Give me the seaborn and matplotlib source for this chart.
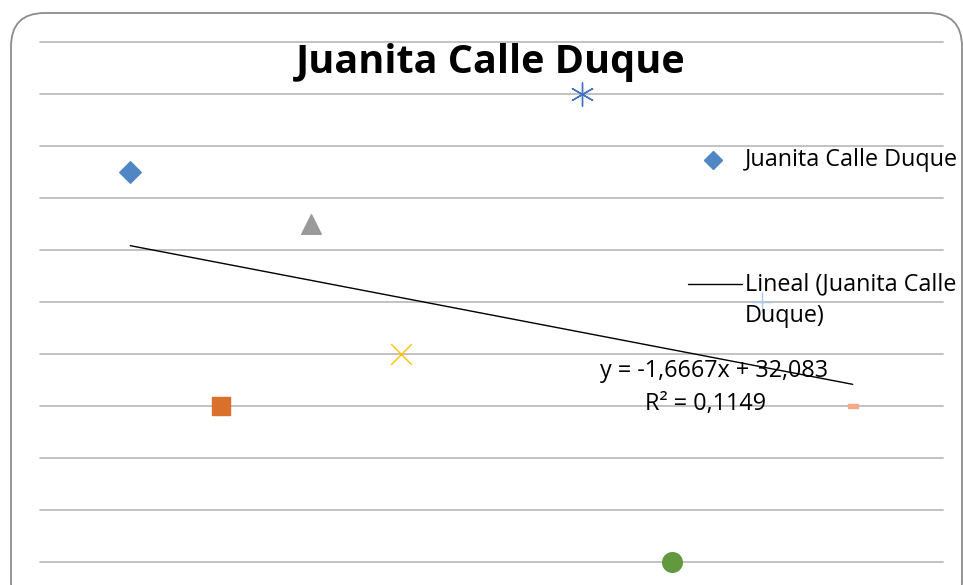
import numpy as np
import pandas as pd
import matplotlib.pyplot as plt
import seaborn as sns
from matplotlib.patches import FancyBboxPatch
from matplotlib.lines import Line2D
from matplotlib.path import Path

titulo = "Juanita Calle Duque"
x_vals = [1, 2, 3, 4, 6, 7, 8, 9]
y_vals = [37.5, 15, 32.5, 20, 45, 0, 25, 15]
colores = ["#4F86C3", "#D9702B", "#9A9A9A", "#FFC000", "#4472C4", "#62993E", "#A9C8EA", "#F4AA88"]
rect = Path([(-1, -0.45), (1, -0.45), (1, 0.45), (-1, 0.45), (-1, -0.45)],
            [Path.MOVETO, Path.LINETO, Path.LINETO, Path.LINETO, Path.CLOSEPOLY])
marcas = ["D", "s", "^", "x", (6, 2, 0), "o", "+", rect]
tamanos = [120, 150, 200, 220, 280, 200, 200, 60]

sns.set_style("white")
plt.rcParams['font.family'] = ['Open Sans', 'DejaVu Sans']
plt.rcParams['text.color'] = 'black'

fig = plt.figure(figsize=(9.63, 5.85), dpi=100)
W, H = 963, 585
ax = fig.add_axes([40 / W, 1 - 562 / H, (943 - 40) / W, (562 - 42) / H])
ax.set_facecolor("none")

df = pd.DataFrame({"x": x_vals, "y": y_vals})

# linea de tendencia
sns.regplot(data=df, x="x", y="y", scatter=False, ci=None, ax=ax,
            color="black", line_kws=dict(lw=1.0))

for i in range(len(x_vals)):
    sub = df.iloc[[i]]
    sns.scatterplot(data=sub, x="x", y="y", marker=marcas[i], s=tamanos[i],
                    color=colores[i], edgecolor=colores[i] if marcas[i] not in ["x", "+"] and i != 4 else None,
                    linewidth=1.0, ax=ax, zorder=3, clip_on=False)

ax.set_xlim(0, 10)
ax.set_ylim(0, 50)
ax.set_yticks(np.arange(0, 51, 5))
ax.set_xticks([])
ax.grid(axis="y", color="#BDBDBD", lw=1.3)
for gl in ax.get_ygridlines():
    gl.set_clip_on(False)
ax.tick_params(left=False, labelleft=False)
ax.set_xlabel("")
ax.set_ylabel("")
sns.despine(ax=ax, left=True, bottom=True)

# ecuacion
m, b = np.polyfit(x_vals, y_vals, 1)
r2 = np.corrcoef(x_vals, y_vals)[0, 1] ** 2
eq = f"y = {m:.4f}x + {b:.3f}".replace(".", ",")
r2txt = f"R² = {r2:.4f}".replace(".", ",")
fs = 16.8
fig.text(714 / W, 1 - 371 / H, eq, ha="center", va="center", fontsize=fs)
fig.text(706 / W, 1 - 404 / H, r2txt, ha="center", va="center", fontsize=fs)

fig.text(491 / W, 1 - 63 / H, titulo, ha="center", va="center", fontsize=28.5, fontweight="bold")

# leyenda
fig.add_artist(Line2D([713 / W], [1 - 160 / H], marker="D", color=colores[0], markersize=9,
                      linestyle="none", transform=fig.transFigure))
fig.text(745 / W, 1 - 160 / H, titulo, ha="left", va="center", fontsize=fs)
fig.add_artist(Line2D([688 / W, 742 / W], [1 - 284 / H, 1 - 284 / H], color="black", lw=1.0,
                      transform=fig.transFigure))
fig.text(745 / W, 1 - 284 / H, "Lineal (Juanita Calle", ha="left", va="center", fontsize=fs)
fig.text(745 / W, 1 - 316 / H, "Duque)", ha="left", va="center", fontsize=fs)

# borde redondeado
fig.add_artist(FancyBboxPatch((11 / W, -30 / H), (962 - 11) / W, (585 + 30 - 13) / H,
                              boxstyle="round,pad=0,rounding_size=0.035", transform=fig.transFigure,
                              fill=False, edgecolor="#8C8C8C", lw=1.3, mutation_aspect=W / H))

fig.savefig("out.png", dpi=100)
